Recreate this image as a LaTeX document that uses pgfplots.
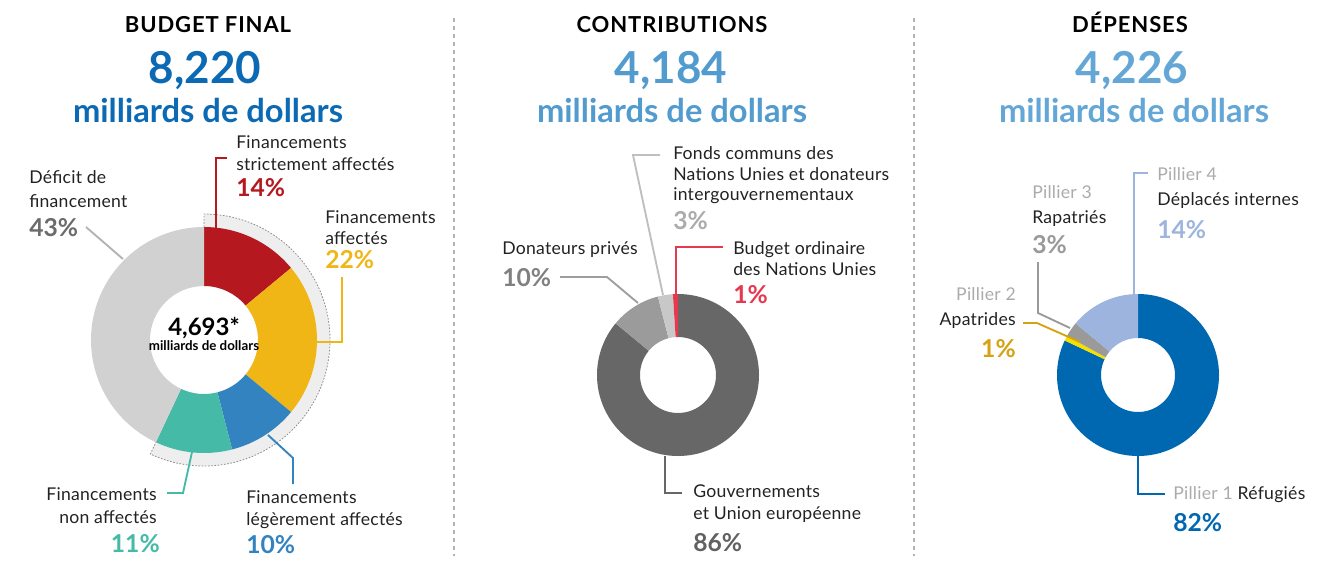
\documentclass[border=0pt]{standalone}
\usepackage{pgfplots}
\pgfplotsset{compat=1.18}
\usepackage{fontspec}
\setmainfont{Lato}

% colours
\definecolor{navy}{HTML}{0B6AB3}
\definecolor{midblue}{HTML}{519BCF}
\definecolor{skyblue}{HTML}{64A7D6}
\definecolor{txt}{HTML}{222222}
\definecolor{cRed}{HTML}{B5191F}
\definecolor{cYel}{HTML}{F0B616}
\definecolor{cBlu}{HTML}{3383C1}
\definecolor{cTeal}{HTML}{45BBA7}
\definecolor{cGry}{HTML}{D1D1D1}
\definecolor{band}{HTML}{EEEEEE}
\definecolor{dG1}{HTML}{676767}
\definecolor{dG2}{HTML}{9B9B9B}
\definecolor{dG3}{HTML}{C8C8C8}
\definecolor{dRed}{HTML}{E5394F}
\definecolor{eBlue}{HTML}{0067B1}
\definecolor{eYel}{HTML}{F5E000}
\definecolor{eGry}{HTML}{9A9A9A}
\definecolor{eLBlue}{HTML}{9DB4DE}
\definecolor{gold}{HTML}{D6A214}
\definecolor{pill}{HTML}{ABABAB}

% donut: centre x, centre y, outer r, inner r (px), list pct/colour, clockwise from top
\newcommand\donut[5]{%
  \gdef\angA{90}%
  \foreach \p/\c in {#5}{%
    \pgfmathsetmacro\angB{\angA-3.6*\p}%
    \edef\temp{\noexpand\fill[\c, shift={(axis cs:#1,#2)}]
      (\angA:#3*0.75pt) arc[start angle=\angA, end angle=\angB, radius=#3*0.75pt]
      -- (\angB:#4*0.75pt) arc[start angle=\angB, end angle=\angA, radius=#4*0.75pt] -- cycle;}%
    \temp
    \xdef\angA{\angB}%
  }%
}

\tikzset{
  lab/.style={anchor=base west, inner sep=0pt, font=\fontsize{13.2}{15}\selectfont\addfontfeatures{LetterSpace=1.5}, text=txt},
  labr/.style={lab, anchor=base east},
  pc/.style={anchor=base west, inner sep=0pt, font=\fontsize{18.5}{20}\selectfont\bfseries},
  pcr/.style={pc, anchor=base east},
  ttl/.style={anchor=base, inner sep=0pt, font=\fontsize{16.5}{18}\selectfont\bfseries\addfontfeatures{LetterSpace=4}},
  big/.style={anchor=base, inner sep=0pt, font=\fontsize{33}{36}\selectfont\bfseries},
  unit/.style={anchor=base, inner sep=0pt, font=\fontsize{24.5}{28}\selectfont\bfseries},
  lead/.style={line width=1.4pt},
}

\begin{document}
\begin{tikzpicture}
\begin{axis}[
    scale only axis, width=990.75pt, height=421.5pt,
    xmin=0, xmax=1321, ymin=0, ymax=562, y dir=reverse,
    hide axis, clip=false,
]
\coordinate (BL) at (axis cs:0,562);
\coordinate (TR) at (axis cs:1321,0);

% separators
\draw[black!30, line width=1pt, dash pattern=on 3pt off 3pt] (axis cs:454,18) -- (axis cs:454,556);
\draw[black!30, line width=1pt, dash pattern=on 3pt off 3pt] (axis cs:914,18) -- (axis cs:914,556);

% headings
\node[ttl] at (axis cs:208,32) {BUDGET FINAL};
\node[big, text=navy] at (axis cs:205,83) {8,220};
\node[unit, text=navy] at (axis cs:208,122) {milliards de dollars};
\node[ttl] at (axis cs:672,32) {CONTRIBUTIONS};
\node[big, text=midblue] at (axis cs:671,83) {4,184};
\node[unit, text=midblue] at (axis cs:672,122) {milliards de dollars};
\node[ttl] at (axis cs:1130,32) {DÉPENSES};
\node[big, text=skyblue] at (axis cs:1132,83) {4,226};
\node[unit, text=skyblue] at (axis cs:1134,122) {milliards de dollars};

% ---- budget final: funded share band (14+22+10+11 = 57 %)
\fill[band, shift={(axis cs:204,340)}] (90:126*0.75pt) arc[start angle=90, end angle={90-3.6*57}, radius=126*0.75pt]
   -- ({90-3.6*57}:110*0.75pt) arc[start angle={90-3.6*57}, end angle=90, radius=110*0.75pt] -- cycle;
\draw[black!45, line width=0.6pt, dash pattern=on 1.2pt off 1.2pt, shift={(axis cs:204,340)}]
   (90:113*0.75pt) -- (90:126*0.75pt) arc[start angle=90, end angle={90-3.6*57}, radius=126*0.75pt]
   -- ({90-3.6*57}:113*0.75pt);
\donut{204}{340}{113}{54}{14/cRed, 22/cYel, 10/cBlu, 11/cTeal, 43/cGry}

\node[anchor=base, inner sep=0pt, font=\fontsize{18}{20}\selectfont\bfseries] at (axis cs:204,335) {4,693*};
\node[anchor=base, inner sep=0pt, font=\fontsize{10}{12}\selectfont\bfseries] at (axis cs:204,350) {milliards de dollars};

\draw[lead, cRed] (axis cs:227,158) -- (axis cs:216,158) -- (axis cs:216,228);
\node[lab] at (axis cs:236,148) {Financements};
\node[lab] at (axis cs:236,170) {strictement affectés};
\node[pc, text=cRed] at (axis cs:236,196) {14\%};

\draw[lead, cYel] (axis cs:342,277) -- (axis cs:342,342) -- (axis cs:317,342);
\node[lab] at (axis cs:325,223) {Financements};
\node[lab] at (axis cs:325,244) {affectés};
\node[pc, text=cYel] at (axis cs:325,268) {22\%};

\draw[lead, black!30] (axis cs:86,227) -- (axis cs:123,259);
\node[lab] at (axis cs:29,183) {Déficit de};
\node[lab] at (axis cs:29,207) {financement};
\node[pc, text=black!58] at (axis cs:29,236) {43\%};

\draw[lead, cTeal] (axis cs:192,452) -- (axis cs:183,493) -- (axis cs:167,493);
\node[labr] at (axis cs:157,500) {Financements};
\node[labr] at (axis cs:157,523) {non affectés};
\node[pcr, text=cTeal] at (axis cs:160,552) {11\%};

\draw[lead, cBlu] (axis cs:268,435) -- (axis cs:293,458) -- (axis cs:293,484);
\node[lab] at (axis cs:246,503) {Financements};
\node[lab] at (axis cs:246,525) {légèrement affectés};
\node[pc, text=cBlu] at (axis cs:246,553) {10\%};

% ---- contributions
\donut{678}{375}{81}{38}{86/dG1, 10/dG2, 3/dG3, 1/dRed}

\draw[lead, black!25] (axis cs:660,155) -- (axis cs:633,155) -- (axis cs:663,295);
\node[lab] at (axis cs:673,159) {Fonds communs des};
\node[lab] at (axis cs:673,180) {Nations Unies et donateurs};
\node[lab] at (axis cs:673,200) {intergouvernementaux};
\node[pc, text=pill] at (axis cs:673,229) {3\%};

\draw[lead, black!38] (axis cs:560,277) -- (axis cs:607,277) -- (axis cs:638,303);
\node[lab] at (axis cs:502,254) {Donateurs privés};
\node[pc, text=black!50] at (axis cs:502,286) {10\%};

\draw[lead, dRed] (axis cs:723,247) -- (axis cs:676,247) -- (axis cs:676,296);
\node[lab] at (axis cs:733,254) {Budget ordinaire};
\node[lab] at (axis cs:733,275) {des Nations Unies};
\node[pc, text=dRed] at (axis cs:733,303) {1\%};

\draw[lead, dG1] (axis cs:665,456) -- (axis cs:665,493) -- (axis cs:682,493);
\node[lab] at (axis cs:693,497) {Gouvernements};
\node[lab] at (axis cs:693,519) {et Union européenne};
\node[pc, text=black!62] at (axis cs:693,551) {86\%};

% ---- dépenses
\donut{1138}{375}{81}{37}{82/eBlue, 1/eYel, 3/eGry, 14/eLBlue}

\draw[lead, eLBlue] (axis cs:1148,173) -- (axis cs:1134,173) -- (axis cs:1134,294);
\node[lab, text=pill] at (axis cs:1157,180) {Pillier 4};
\node[lab] at (axis cs:1157,205) {Déplacés internes};
\node[pc, text=eLBlue] at (axis cs:1157,238) {14\%};

\draw[lead, eGry] (axis cs:1038,262) -- (axis cs:1038,313) -- (axis cs:1070,328);
\node[lab, text=pill] at (axis cs:1032,198) {Pillier 3};
\node[lab] at (axis cs:1032,223) {Rapatriés};
\node[pc, text=black!40] at (axis cs:1032,253) {3\%};

\draw[lead, gold] (axis cs:1023,323) -- (axis cs:1037,323) -- (axis cs:1080,342);
\node[labr, text=pill] at (axis cs:1016,300) {Pillier 2};
\node[labr] at (axis cs:1016,325) {Apatrides};
\node[pcr, text=gold] at (axis cs:1016,357) {1\%};

\draw[lead, eBlue] (axis cs:1138,456) -- (axis cs:1138,494) -- (axis cs:1165,494);
\node[lab] at (axis cs:1173,499) {{\color{pill}Pillier 1} Réfugiés};
\node[pc, text=eBlue] at (axis cs:1173,531) {82\%};
\end{axis}
\pgfresetboundingbox
\path (BL) rectangle (TR);
\end{tikzpicture}
\end{document}
